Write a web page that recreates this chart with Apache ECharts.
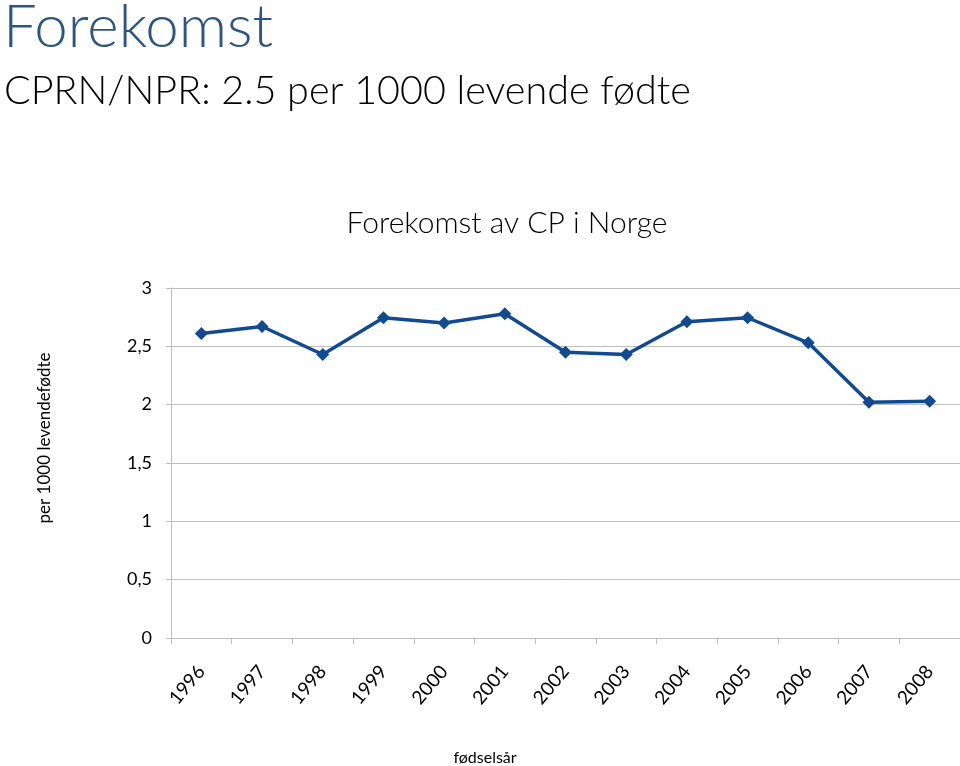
<!DOCTYPE html>
<html>
<head>
<meta charset="utf-8">
<script src="https://cdn.jsdelivr.net/npm/echarts@6/dist/echarts.min.js"></script>
<style>
html,body{margin:0;padding:0;background:#fff;}
#c{width:960px;height:766px;}
</style>
</head>
<body>
<div id="c"></div>
<script>
const categories = ['1996','1997','1998','1999','2000','2001','2002','2003','2004','2005','2006','2007','2008'];
const values = [2.61, 2.67, 2.43, 2.745, 2.70, 2.78, 2.45, 2.43, 2.71, 2.745, 2.53, 2.02, 2.03];
const yTicks = { min: 0, max: 3, interval: 0.5 };

const FONT = 'Lato, "Open Sans", sans-serif';
const chart = echarts.init(document.getElementById('c'));
chart.setOption({
  animation: false,
  title: [
    { text: 'Forekomst', left: -2, top: -7,
      textStyle: { fontFamily: FONT, fontWeight: 300, fontSize: 60, color: '#2a5681' } },
    { text: 'CPRN/NPR: 2.5 per 1000 levende fødte', left: -1, top: 66,
      textStyle: { fontFamily: FONT, fontWeight: 300, fontSize: 39.5, color: '#000' } },
    { text: 'Forekomst av CP i Norge', left: 502, top: 203, textAlign: 'center',
      textStyle: { fontFamily: FONT, fontWeight: 300, fontSize: 30, color: '#000' } },
    { text: 'fødselsår', left: 480, top: 745, textAlign: 'center',
      textStyle: { fontFamily: FONT, fontWeight: 400, fontSize: 16, color: '#000' } }
  ],
  graphic: [{
    type: 'text', x: 45, y: 438, rotation: Math.PI / 2,
    style: { text: 'per 1000 levendefødte', fontFamily: FONT, fontSize: 17, fill: '#000',
      align: 'center', verticalAlign: 'middle' }
  }],
  grid: { left: 171, right: 0, top: 288, bottom: 128, containLabel: false },
  xAxis: {
    type: 'category',
    data: categories,
    boundaryGap: true,
    axisLine: { lineStyle: { color: '#bfbfbf', width: 1 } },
    axisTick: { show: true, length: 6, lineStyle: { color: '#bfbfbf' } },
    axisLabel: { rotate: 50, margin: 30, fontFamily: FONT, fontSize: 19, color: '#000', interval: 0 }
  },
  yAxis: {
    type: 'value',
    min: yTicks.min, max: yTicks.max, interval: yTicks.interval,
    axisLine: { show: true, lineStyle: { color: '#bfbfbf', width: 1 } },
    axisTick: { show: true, length: 5, lineStyle: { color: '#bfbfbf' } },
    splitLine: { show: true, lineStyle: { color: '#bfbfbf', width: 1 } },
    axisLabel: { margin: 19, fontFamily: FONT, fontSize: 18, color: '#000',
      formatter: v => String(v).replace('.', ',') }
  },
  series: [{
    type: 'line',
    data: values,
    symbol: 'diamond',
    symbolSize: 13,
    lineStyle: { color: '#124a92', width: 3.5 },
    itemStyle: { color: '#124a92' }
  }]
});
</script>
</body>
</html>
